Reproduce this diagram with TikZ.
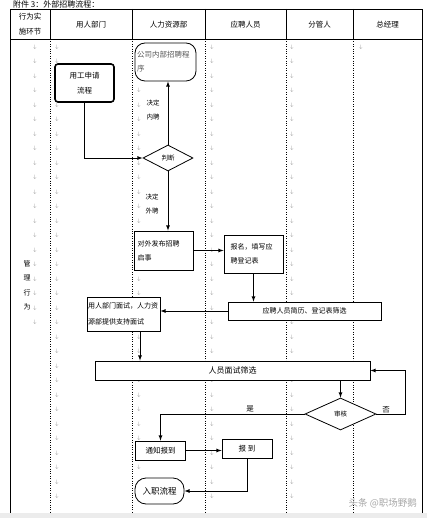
\documentclass[tikz,border=0pt]{standalone}
\usepackage{fontspec}
\setmainfont{Noto Sans CJK SC}
\usepackage{tikz}
\usetikzlibrary{positioning,shapes,arrows}

\tikzset{
  head/.style={font=\fontsize{7.5}{15}\selectfont, align=center, inner sep=0pt},
  pmark/.style={text=gray, font=\fontsize{5}{5}\selectfont, inner sep=0pt},
  box/.style={rectangle, draw, line width=0.8pt, fill=white, font=\fontsize{7}{14}\selectfont, inner sep=0pt, align=left},
  term/.style={box, rounded corners=10pt},
  judge/.style={diamond, draw, line width=0.8pt, fill=white, inner sep=0pt, font=\fontsize{6.5}{8}\selectfont},
  flow/.style={-latex, line width=0.8pt},
  lbl/.style={font=\fontsize{6.5}{14}\selectfont, align=center, inner sep=0pt}
}

\begin{document}
\begin{tikzpicture}[x=1pt,y=-1pt]
    \useasboundingbox (0,0) rectangle (427,518);

    \foreach \k in {0,1,...,19} \node[pmark] (ma-\k) at (35,{47+14.5*\k}) {$\downarrow$};
    \foreach \k in {0,1,4,5,...,31} \node[pmark] (mb-\k) at (57,{47+14.5*\k}) {$\downarrow$};
    \foreach \k in {3,4,...,12,16,17,20,21,23,24,...,27,29} \node[pmark] (mc-\k) at (139,{47+14.5*\k}) {$\downarrow$};
    \foreach \k in {0,1,...,21,23,24,...,31} \node[pmark] (md-\k) at (212,{47+14.5*\k}) {$\downarrow$};
    \foreach \k in {0,1,...,17,19,20,21,23,24,...,31} \node[pmark] (me-\k) at (292,{47+14.5*\k}) {$\downarrow$};
    \node[pmark] (mf) at (361,47) {$\downarrow$};

    \draw[line width=0.8pt] (10,513) -- (10,9) -- (422,9) -- (422,513);
    \draw[line width=0.8pt] (10,39) -- (422,39);
    \foreach \x in {50,132,205,286,353} {
      \draw[line width=0.8pt] (\x,9) -- (\x,39);
      \draw[dotted] (\x,39) -- (\x,513);
    }

    \node[anchor=west, font=\fontsize{8}{10}\selectfont, inner sep=0pt] (title) at (13,4.5) {附件 3：外部招聘流程：};
    \node[head] (h0) at (30,24.5) {行为实\\施环节};
    \node[head] (h1) at (91,24.5) {用人部门};
    \node[head] (h2) at (168.5,24.5) {人力资源部};
    \node[head] (h3) at (245.5,24.5) {应聘人员};
    \node[head] (h4) at (319.5,24.5) {分管人};
    \node[head] (h5) at (387.5,24.5) {总经理};
    \node[lbl, font=\fontsize{7}{14.5}\selectfont] (mgmt) at (27,285.5) {管\\理\\行\\为};

    \node[box, line width=1.6pt, rounded corners=3pt, minimum width=59pt, minimum height=38pt, align=center, font=\fontsize{7.5}{15}\selectfont] (req) at (84.5,83) {用工申请\\流程};
    \node[term, minimum width=61pt, minimum height=38pt, text width=57pt, text=gray!70!black, font=\fontsize{7.5}{14}\selectfont] (inner) at (165.5,62) {公司内部招聘程\\序};
    \node[judge, minimum width=50pt, minimum height=26pt] (d1) at (168,158) {判断};
    \node[lbl] (l1) at (153,110) {决定\\内聘};
    \node[lbl] (l2) at (152,204) {决定\\外聘};
    \node[box, minimum width=59pt, minimum height=39pt, text width=52pt] (pub) at (163.5,250.5) {对外发布招聘\\启事};
    \node[box, minimum width=59pt, minimum height=38pt, text width=46pt] (reg) at (253.5,254) {报名，填写应\\聘登记表};
    \node[box, minimum width=153pt, minimum height=18pt, align=center] (screen) at (304.5,311) {应聘人员简历、登记表筛选};
    \node[box, minimum width=73pt, minimum height=34pt, text width=71pt, font=\fontsize{7}{16}\selectfont] (intv) at (123.5,314) {用人部门面试，人力资\\源部提供支持面试};
    \node[box, minimum width=275pt, minimum height=19pt, align=center, font=\fontsize{8}{10}\selectfont] (final) at (232.5,370.5) {人员面试筛选};
    \node[judge, minimum width=71pt, minimum height=32pt] (d2) at (340.5,414) {审核};
    \node[lbl, font=\fontsize{7.5}{10}\selectfont] (yes) at (250,409) {是};
    \node[lbl, font=\fontsize{7.5}{10}\selectfont] (no) at (386,410) {否};
    \node[box, minimum width=50pt, minimum height=19pt, align=center, font=\fontsize{7.5}{10}\selectfont] (notify) at (160.5,450.5) {通知报到};
    \node[box, minimum width=50pt, minimum height=19pt, align=center, font=\fontsize{7.5}{10}\selectfont] (report) at (247,448.5) {报\ 到};
    \node[term, minimum width=49pt, minimum height=26pt, rounded corners=11pt, align=center, font=\fontsize{8.5}{10}\selectfont] (onboard) at (159.5,491) {入职流程};

    \draw[flow] (req.south) |- (d1.west);
    \draw[flow] (d1.north) -- (d1.north |- inner.south);
    \draw[flow] (d1.south) -- (d1.south |- pub.north);
    \draw[flow] (pub.east) -- (pub.east -| reg.west);
    \draw[flow] (reg.south) -- (reg.south |- screen.north);
    \draw[flow] (screen.west) -- (screen.west -| intv.east);
    \coordinate (ivb) at ([xshift=16.5pt]intv.south);
    \draw[flow] (ivb) -- (ivb |- final.north);
    \draw[flow] (d2.north |- final.south) -- (d2.north);
    \coordinate (back) at (405,370.5);
    \draw[flow] (d2.east) -| (back) -- (final.east);
    \draw[flow] (d2.west) -| (notify.north);
    \draw[flow] (notify.east) -- (notify.east -| report.west);
    \draw[flow] (report.south) |- (onboard.east);

    \node[anchor=east, font=\fontsize{9.5}{10}\selectfont, text=gray!70, inner sep=0pt] (wm) at (417,503) {头条 @职场野鹅};
    \fill[gray!15] (0,513) rectangle (427,518);
  \end{tikzpicture}
\end{document}
